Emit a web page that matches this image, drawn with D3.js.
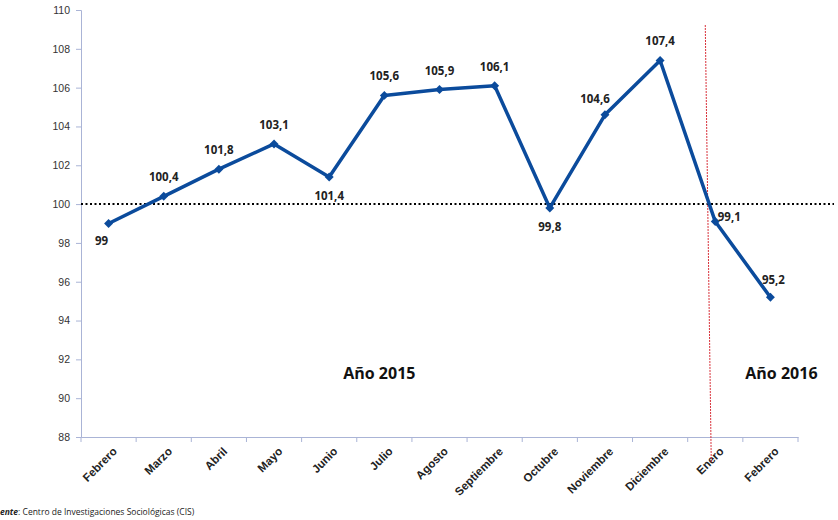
<!DOCTYPE html>
<html>
<head>
<meta charset="utf-8">
<script src="https://cdn.jsdelivr.net/npm/d3@7"></script>
<style>
  body { margin: 0; background: #fff; }
  svg { display: block; font-family: "Open Sans", "Liberation Sans", sans-serif; }
</style>
</head>
<body>
<div id="chart"></div>
<script>
var months = ['Febrero', 'Marzo', 'Abril', 'Mayo', 'Junio', 'Julio', 'Agosto',
  'Septiembre', 'Octubre', 'Noviembre', 'Diciembre', 'Enero', 'Febrero'];
var values = [99, 100.4, 101.8, 103.1, 101.4, 105.6, 105.9, 106.1, 99.8, 104.6, 107.4, 99.1, 95.2];
var labelPos = ['belowLeft', 'above', 'above', 'above', 'below', 'above', 'above',
  'above', 'below', 'aboveLeft', 'above', 'right', 'aboveRight'];
var yTicks = [88, 90, 92, 94, 96, 98, 100, 102, 104, 106, 108, 110];
var baseline = 100;
var yearLabels = [{ text: 'Año 2015', at: 5 }, { text: 'Año 2016', at: 12 }];
var source = 'Centro de Investigaciones Sociológicas (CIS)';

var svgWidth = 838, svgHeight = 520;
var margin = { top: 10, right: 40, bottom: 83, left: 81 };
var width = svgWidth - margin.left - margin.right;
var height = svgHeight - margin.top - margin.bottom;

var svg = d3.select('#chart').append('svg')
  .attr('width', svgWidth)
  .attr('height', svgHeight);
var g = svg.append('g')
  .attr('transform', 'translate(' + margin.left + ',' + margin.top + ')');

var idx = months.map(function (d, i) { return i; });
var x = d3.scaleBand().domain(idx).range([0, width]);
var y = d3.scaleLinear().domain([88, 110]).range([height, 0]);
var cx = function (i) { return x(i) + x.bandwidth() / 2; };

// axes
var axisColor = '#aab4d6';
var yAxis = g.append('g')
  .call(d3.axisLeft(y).tickValues(yTicks).tickSize(5).tickPadding(6));
yAxis.select('.domain').attr('stroke', axisColor);
yAxis.selectAll('.tick line').attr('stroke', axisColor);
yAxis.selectAll('.tick text').attr('fill', '#333').attr('font-size', 10.5);

var xAxis = g.append('g')
  .attr('transform', 'translate(0,' + height + ')')
  .call(d3.axisBottom(x).tickSizeOuter(0).tickSize(0).tickFormat(function (i) { return months[i]; }));
xAxis.select('.domain').attr('stroke', axisColor).attr('stroke-width', 1.2);
xAxis.selectAll('.tick line').remove();
// tick marks on band edges
g.append('g').selectAll('line')
  .data(idx.concat([months.length]))
  .enter().append('line')
  .attr('x1', function (i) { return i * x.step(); })
  .attr('x2', function (i) { return i * x.step(); })
  .attr('y1', height)
  .attr('y2', height + 5)
  .attr('stroke', axisColor);
xAxis.selectAll('.tick text')
  .attr('fill', '#222')
  .attr('font-weight', 'bold')
  .attr('font-size', 11.5)
  .attr('text-anchor', 'end')
  .attr('dy', 0)
  .attr('transform', 'translate(7,13) rotate(-45)');

// baseline 100
g.append('line')
  .attr('x1', 0).attr('x2', svgWidth - margin.left - 4)
  .attr('y1', y(baseline)).attr('y2', y(baseline))
  .attr('stroke', '#000')
  .attr('stroke-width', 2)
  .attr('stroke-dasharray', '2,2.5');

// year separator
var sepX = cx(11);
g.append('line')
  .attr('x1', sepX - 10).attr('y1', 15)
  .attr('x2', sepX - 4).attr('y2', height + 26)
  .attr('stroke', '#d9313a')
  .attr('stroke-width', 1)
  .attr('stroke-dasharray', '2,1');

// series
var line = d3.line()
  .x(function (d, i) { return cx(i); })
  .y(function (d) { return y(d); });
g.append('path')
  .datum(values)
  .attr('fill', 'none')
  .attr('stroke', '#0b4b9c')
  .attr('stroke-width', 3.5)
  .attr('stroke-linejoin', 'round')
  .attr('d', line);

g.selectAll('.marker')
  .data(values)
  .enter().append('path')
  .attr('class', 'marker')
  .attr('d', d3.symbol().type(d3.symbolSquare).size(40))
  .attr('transform', function (d, i) { return 'translate(' + cx(i) + ',' + y(d) + ') rotate(45)'; })
  .attr('fill', '#0b4b9c');

var offs = {
  above: [0, -15],
  below: [0, 23],
  belowLeft: [-7, 21],
  aboveLeft: [-10, -12],
  aboveRight: [3, -13],
  right: [14, -1]
};
g.selectAll('.val')
  .data(values)
  .enter().append('text')
  .attr('class', 'val')
  .attr('x', function (d, i) { return cx(i) + offs[labelPos[i]][0]; })
  .attr('y', function (d, i) { return y(d) + offs[labelPos[i]][1]; })
  .attr('text-anchor', 'middle')
  .attr('font-size', 11.5)
  .attr('font-weight', 'bold')
  .attr('fill', '#222')
  .text(function (d) { return String(d).replace('.', ','); });

g.selectAll('.year')
  .data(yearLabels)
  .enter().append('text')
  .attr('x', function (d) { return cx(d.at) - (d.at === 5 ? 5 : -11); })
  .attr('y', y(91))
  .attr('text-anchor', 'middle')
  .attr('font-size', 16)
  .attr('font-weight', 'bold')
  .attr('fill', '#111')
  .text(function (d) { return d.text; });

// source line (cut at left like the original)
var src = svg.append('text')
  .attr('x', 0)
  .attr('y', 515)
  .attr('font-size', 8.5)
  .attr('fill', '#222');
src.append('tspan').attr('font-style', 'italic').attr('font-weight', 'bold').text('ente');
src.append('tspan').text(': ' + source);
</script>
</body>
</html>
